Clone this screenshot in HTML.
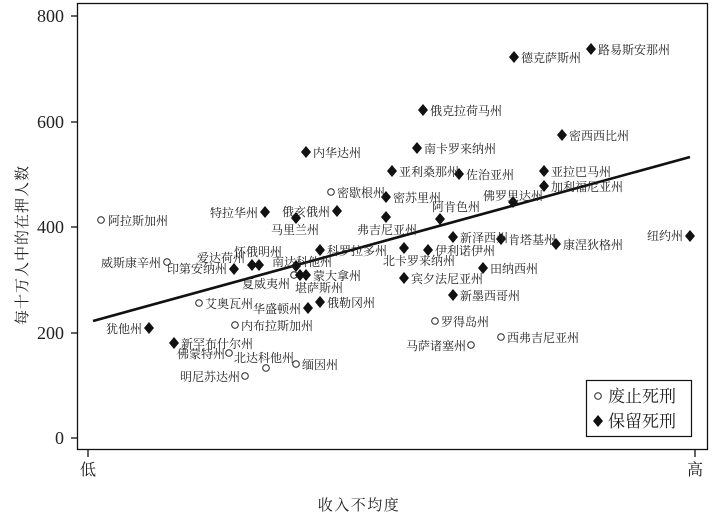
<!DOCTYPE html>
<html><head><meta charset="utf-8"><style>
html,body{margin:0;padding:0;background:#fff;}
svg{display:block;}
text{font-family:"Liberation Serif","Noto Serif CJK SC",serif;fill:#222;}
.l{font-size:12px;}
</style></head><body>
<svg width="715" height="521" viewBox="0 0 715 521" xmlns="http://www.w3.org/2000/svg">
<defs>
<path id="d" d="M0,-6 L5,0 L0,6 L-5,0 Z" fill="#111"/>
</defs>
<rect x="77.5" y="3.5" width="630" height="446" fill="none" stroke="#111" stroke-width="1.3"/>
<g stroke="#111" stroke-width="1.3">
<line x1="71" y1="16" x2="77" y2="16"/><line x1="71" y1="122" x2="77" y2="122"/>
<line x1="71" y1="227" x2="77" y2="227"/><line x1="71" y1="333" x2="77" y2="333"/>
<line x1="71" y1="438" x2="77" y2="438"/>
<line x1="88" y1="449" x2="88" y2="457"/><line x1="695" y1="449" x2="695" y2="457"/>
</g>
<g font-size="18" text-anchor="end">
<text x="64" y="22">800</text><text x="64" y="128">600</text><text x="64" y="233">400</text><text x="64" y="339">200</text><text x="64" y="444">0</text>
</g>
<text x="88" y="475" font-size="16" text-anchor="middle">低</text>
<text x="695" y="475" font-size="16" text-anchor="middle">高</text>
<text x="359" y="510" font-size="15" letter-spacing="1.5" text-anchor="middle">收入不均度</text>
<text transform="translate(27,245) rotate(-90)" font-size="15" letter-spacing="1" text-anchor="middle">每十万人中的在押人数</text>
<line x1="93" y1="321" x2="690" y2="157" stroke="#111" stroke-width="2.6"/>
<g fill="none" stroke="#222" stroke-width="1">
<circle cx="101" cy="220" r="3.3"/><circle cx="167" cy="262" r="3.3"/><circle cx="331" cy="192" r="3.3"/>
<circle cx="199" cy="303" r="3.3"/><circle cx="235" cy="325" r="3.3"/><circle cx="229" cy="353" r="3.3"/>
<circle cx="266" cy="368" r="3.3"/><circle cx="296" cy="364" r="3.3"/><circle cx="245" cy="376" r="3.3"/>
<circle cx="294" cy="275" r="3.3"/><circle cx="435" cy="321" r="3.3"/><circle cx="471" cy="345" r="3.3"/>
<circle cx="501" cy="337" r="3.3"/>
</g>
<g>
<use href="#d" x="591" y="49"/><use href="#d" x="514" y="57"/><use href="#d" x="423" y="110"/>
<use href="#d" x="417" y="148"/><use href="#d" x="562" y="135"/><use href="#d" x="306" y="152"/>
<use href="#d" x="392" y="171"/><use href="#d" x="459" y="174"/><use href="#d" x="544" y="171"/>
<use href="#d" x="544" y="186"/><use href="#d" x="386" y="197"/><use href="#d" x="513" y="202"/>
<use href="#d" x="440" y="219"/><use href="#d" x="265" y="212"/><use href="#d" x="337" y="211"/>
<use href="#d" x="296" y="218"/><use href="#d" x="386" y="217"/><use href="#d" x="320" y="250"/>
<use href="#d" x="404" y="248"/><use href="#d" x="428" y="250"/><use href="#d" x="453" y="237"/>
<use href="#d" x="501" y="239"/><use href="#d" x="556" y="244"/><use href="#d" x="690" y="236"/>
<use href="#d" x="483" y="268"/><use href="#d" x="404" y="278"/><use href="#d" x="453" y="295"/>
<use href="#d" x="320" y="302"/><use href="#d" x="308" y="308"/><use href="#d" x="252" y="265"/>
<use href="#d" x="259" y="265"/><use href="#d" x="234" y="269"/><use href="#d" x="296" y="266"/>
<use href="#d" x="306" y="275"/><use href="#d" x="300" y="275"/><use href="#d" x="149" y="328"/>
<use href="#d" x="174" y="343"/>
</g>
<g class="l">
<text x="108" y="225">阿拉斯加州</text>
<text x="161" y="267" text-anchor="end">威斯康辛州</text>
<text x="337" y="197">密歇根州</text>
<text x="205" y="308">艾奥瓦州</text>
<text x="241" y="330">内布拉斯加州</text>
<text x="225" y="358" text-anchor="end">佛蒙特州</text>
<text x="234" y="362">北达科他州</text>
<text x="302" y="369">缅因州</text>
<text x="240" y="381" text-anchor="end">明尼苏达州</text>
<text x="242" y="288">夏威夷州</text>
<text x="441" y="326">罗得岛州</text>
<text x="466" y="350" text-anchor="end">马萨诸塞州</text>
<text x="507" y="342">西弗吉尼亚州</text>
<text x="598" y="54">路易斯安那州</text>
<text x="521" y="62">德克萨斯州</text>
<text x="430" y="115">俄克拉荷马州</text>
<text x="424" y="153">南卡罗来纳州</text>
<text x="569" y="140">密西西比州</text>
<text x="313" y="157">内华达州</text>
<text x="399" y="176">亚利桑那州</text>
<text x="466" y="179">佐治亚州</text>
<text x="551" y="176">亚拉巴马州</text>
<text x="551" y="191">加利福尼亚州</text>
<text x="393" y="202">密苏里州</text>
<text x="483" y="200">佛罗里达州</text>
<text x="432" y="211">阿肯色州</text>
<text x="258" y="217" text-anchor="end">特拉华州</text>
<text x="330" y="216" text-anchor="end">俄亥俄州</text>
<text x="271" y="234">马里兰州</text>
<text x="357" y="234">弗吉尼亚州</text>
<text x="327" y="255">科罗拉多州</text>
<text x="383" y="265">北卡罗来纳州</text>
<text x="435" y="255">伊利诺伊州</text>
<text x="460" y="242">新泽西州</text>
<text x="508" y="244">肯塔基州</text>
<text x="563" y="249">康涅狄格州</text>
<text x="683" y="240" text-anchor="end">纽约州</text>
<text x="490" y="273">田纳西州</text>
<text x="411" y="283">宾夕法尼亚州</text>
<text x="460" y="300">新墨西哥州</text>
<text x="327" y="307">俄勒冈州</text>
<text x="301" y="313" text-anchor="end">华盛顿州</text>
<text x="234" y="256">怀俄明州</text>
<text x="245" y="262" text-anchor="end">爱达荷州</text>
<text x="227" y="273" text-anchor="end">印第安纳州</text>
<text x="272" y="266">南达科他州</text>
<text x="313" y="280">蒙大拿州</text>
<text x="295" y="292">堪萨斯州</text>
<text x="142" y="333" text-anchor="end">犹他州</text>
<text x="181" y="348">新罕布什尔州</text>
</g>
<rect x="586.5" y="380.5" width="105" height="56" fill="#fff" stroke="#111" stroke-width="1.2"/>
<circle cx="598" cy="396" r="3.3" fill="none" stroke="#222"/>
<use href="#d" x="598" y="421"/>
<text x="608" y="402" font-size="17">废止死刑</text>
<text x="608" y="427" font-size="17">保留死刑</text>
</svg>
</body></html>
